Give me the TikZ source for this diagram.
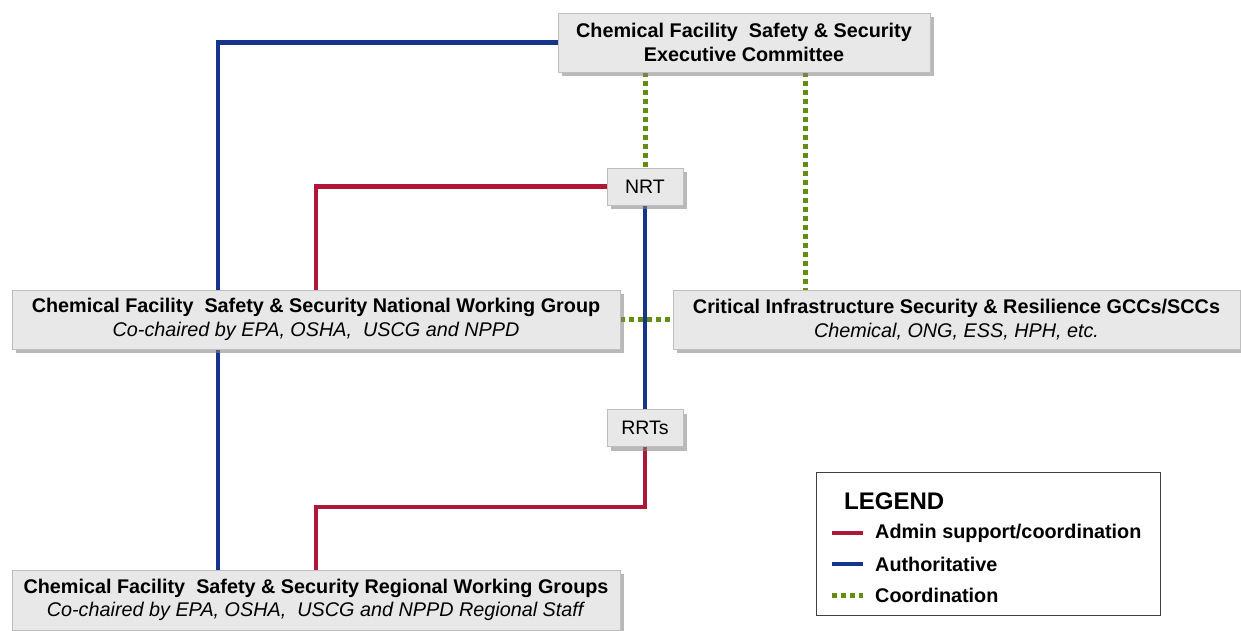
\documentclass[tikz,border=0pt]{standalone}
\usepackage{fontspec}
\setmainfont{Liberation Sans}
\usetikzlibrary{shadows,backgrounds}

\definecolor{adminred}{RGB}{176,22,56}
\definecolor{authblue}{RGB}{22,52,140}
\definecolor{coordgreen}{RGB}{98,142,18}
\definecolor{boxfill}{RGB}{232,232,232}
\definecolor{boxline}{RGB}{190,190,190}

\tikzset{
  orgbox/.style={draw=boxline, fill=boxfill, inner sep=0pt, align=center,
    drop shadow={shadow xshift=4pt, shadow yshift=-4pt, fill=black!50, opacity=0.55},
    font=\fontsize{19.8}{23.5}\selectfont},
  teambox/.style={orgbox, minimum width=76pt, minimum height=37pt, font=\fontsize{19.5}{23}\selectfont},
  legendtext/.style={anchor=west, inner sep=0pt, font=\bfseries\fontsize{19.8}{23.5}\selectfont},
  admin/.style={adminred, line width=4.5pt},
  auth/.style={authblue, line width=4.5pt},
  coord/.style={coordgreen, line width=5pt, dash pattern=on 5pt off 4pt},
}

\begin{document}
\begin{tikzpicture}[x=1pt, y=-1pt]
    \useasboundingbox (0,0) rectangle (1241,631);

    % committees and groups
    \node[orgbox, minimum width=372pt, minimum height=59pt] (exec) at (744,42.5)
        {\textbf{Chemical Facility\ \ Safety \& Security}\\\textbf{Executive Committee}};
    \node[orgbox, minimum width=608pt, minimum height=59pt] (national) at (316,319.5)
        {\textbf{Chemical Facility\ \ Safety \& Security National Working Group}\\\textit{Co-chaired by EPA, OSHA,\ \ USCG and NPPD}};
    \node[orgbox, minimum width=567pt, minimum height=59pt] (critical) at (956.5,319.5)
        {\textbf{Critical Infrastructure Security \& Resilience GCCs/SCCs}\\\textit{Chemical, ONG, ESS, HPH, etc.}};
    \node[orgbox, minimum width=608pt, minimum height=60pt] (regional) at (316,600)
        {\textbf{Chemical Facility\ \ Safety \& Security Regional Working Groups}\\\textit{Co-chaired by EPA, OSHA,\ \ USCG and NPPD Regional Staff}};

    % response teams
    \node[teambox] (nrt) at (645,186.5) {NRT};
    \node[teambox] (rrts) at (645,428) {RRTs};
    \coordinate (rrtbend) at (645,507);

    % connectors
    \begin{scope}[on background layer]
        \draw[coord] (nrt.north |- exec.south) -- (nrt.north);
        \draw[coord] ([xshift=61pt]exec.south) -- ([xshift=61pt]exec.south |- critical.north);
        \draw[coord] (national.east) -- (critical.west);

        \draw[auth] (exec.west) -| ([xshift=-98pt]regional.north);
        \draw[auth] (nrt.south) -- (rrts.north);

        \draw[admin] (nrt.west) -| (national.north);
        \draw[admin] (rrts.south) -- (rrtbend) -| (regional.north);
    \end{scope}

    % legend
    \node[draw=black!75, minimum width=344pt, minimum height=143pt] (legend) at (988,543.5) {};
    \node[anchor=west, inner sep=0pt, font=\bfseries\fontsize{24}{28}\selectfont] (legendtitle) at (844,501) {LEGEND};
    \node[legendtext] (adminlbl) at (875,533) {Admin support/coordination};
    \node[legendtext] (authlbl) at (875,564) {Authoritative};
    \node[legendtext] (coordlbl) at (875,595) {Coordination};
    \draw[admin] ([xshift=-43pt]adminlbl.west) -- ++(31,0);
    \draw[auth] ([xshift=-43pt]authlbl.west) -- ++(31,0);
    \draw[coord] ([xshift=-43pt]coordlbl.west) -- ++(31,0);
\end{tikzpicture}
\end{document}
